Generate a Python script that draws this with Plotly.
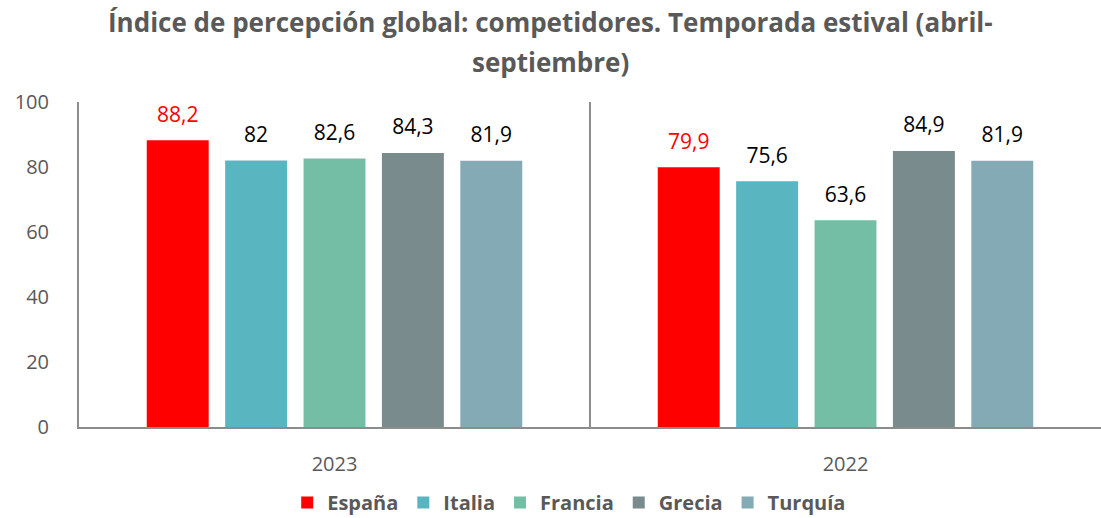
import plotly.graph_objects as go

years = ["2023", "2022"]
countries = ["España", "Italia", "Francia", "Grecia", "Turquía"]
values = {
    "España": [88.2, 79.9],
    "Italia": [82, 75.6],
    "Francia": [82.6, 63.6],
    "Grecia": [84.3, 84.9],
    "Turquía": [81.9, 81.9],
}
colors = {
    "España": "#FF0000",
    "Italia": "#59B5C0",
    "Francia": "#75BEA6",
    "Grecia": "#7A8B8D",
    "Turquía": "#84AAB5",
}
label_colors = {c: ("#FF0000" if c == "España" else "#000000") for c in countries}
title_lines = ["Índice de percepción global: competidores. Temporada estival (abril-",
               "septiembre)"]

FONT = "Open Sans"
GRAY = "#595959"


def fmt(v):
    return f"{v:g}".replace(".", ",")


fig = go.Figure()
for c in countries:
    fig.add_trace(go.Bar(
        x=years, y=values[c], name=c,
        marker=dict(color=colors[c], line=dict(width=0)),
        hoverinfo="skip",
    ))
for c in countries:
    fig.add_trace(go.Scatter(
        x=years, y=values[c], mode="markers+text",
        text=[fmt(v) for v in values[c]],
        textposition="top center",
        textfont=dict(family=FONT, size=21, color=label_colors[c]),
        marker=dict(size=20, opacity=0),
        showlegend=False, hoverinfo="skip",
    ))

fig.add_shape(type="line", xref="x", yref="y", x0=0.5, x1=0.5, y0=0, y1=100,
              line=dict(color="#8C8C8C", width=2))

fig.update_layout(
    width=1101, height=518,
    paper_bgcolor="white", plot_bgcolor="white",
    margin=dict(l=79, r=0, t=102, b=91),
    barmode="group", bargap=0.233, bargroupgap=0.21,
    scattermode="group", scattergap=0.233,
    showlegend=True,
    legend=dict(orientation="h", xref="container", x=0.517, xanchor="center",
                yref="container", y=0.03, yanchor="middle",
                font=dict(family=FONT, size=20, color=GRAY, weight="bold"),
                itemwidth=30, tracegroupgap=0),
    xaxis=dict(showline=True, linecolor="#8C8C8C", linewidth=2, ticks="",
               tickfont=dict(family=FONT, size=20, color=GRAY), ticklabelstandoff=18,
               automargin=False, fixedrange=True),
    yaxis=dict(range=[0, 100], dtick=20, showgrid=False, zeroline=False,
               showline=True, linecolor="#8C8C8C", linewidth=2, ticks="",
               tickfont=dict(family=FONT, size=20, color=GRAY), ticklabelstandoff=24,
               automargin=False, fixedrange=True),
)

for i, line in enumerate(title_lines):
    fig.add_annotation(text=f"<b>{line}</b>", xref="paper", yref="paper",
                       x=0.461, y=1, yshift=80 - 40 * i, showarrow=False,
                       xanchor="center", yanchor="middle",
                       font=dict(family=FONT, size=26, color=GRAY))

fig.write_html("out.html",
               config={"displayModeBar": False, "responsive": False},
               post_script="document.body.style.margin='0';")
